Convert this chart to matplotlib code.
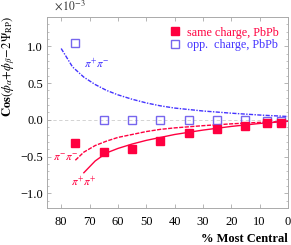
import numpy as np
import matplotlib
matplotlib.use("Agg")
import matplotlib.pyplot as plt
from matplotlib.ticker import MultipleLocator

plt.rcParams['font.family'] = ['Liberation Serif', 'DejaVu Serif']
plt.rcParams['mathtext.fontset'] = 'stix'

RED = '#FF0040'
BLUE = '#4433FF'
SQ_BLUE = '#7766EE'

# centrality bins (% most central) and correlator values (units of 1e-3)
cent = [75, 65, 55, 45, 35, 25, 15, 7.5, 2.5]
same_charge = [-0.31, -0.44, -0.40, -0.29, -0.18, -0.13, -0.08, -0.04, -0.04]
opp_charge = [1.04, 0.0, 0.0, 0.0, 0.0, 0.0, 0.0, -0.02, -0.02]

# model curves
pm_x = [80, 76, 72, 68, 64, 60, 55, 50, 45, 40, 30, 20, 10, 0]
pm_y = [0.97, 0.72, 0.58, 0.48, 0.40, 0.34, 0.28, 0.23, 0.19, 0.16, 0.12, 0.09, 0.065, 0.045]
pp_x = [72, 68, 64, 60, 55, 50, 45, 40, 30, 20, 10, 0]
pp_y = [-0.72, -0.56, -0.45, -0.39, -0.33, -0.28, -0.24, -0.20, -0.14, -0.09, -0.05, -0.02]
mm_x = [75, 72, 68, 64, 60, 55, 50, 45, 40, 30, 20, 10, 0]
mm_y = [-0.55, -0.44, -0.35, -0.29, -0.24, -0.20, -0.16, -0.13, -0.11, -0.08, -0.055, -0.035, -0.02]

fig = plt.figure(figsize=(2.91, 2.45), dpi=100)
ax = fig.add_axes([0.1615, 0.151, 0.828, 0.780])

ax.axhline(0, color='#cccccc', lw=0.6, ls=(0, (4, 3)), zorder=0)

ax.plot(pm_x, pm_y, color=BLUE, lw=1.0, ls=(0, (3, 1, 1, 1)))
ax.plot(pp_x, pp_y, color=RED, lw=1.0)
ax.plot(mm_x, mm_y, color=RED, lw=1.0, ls=(0, (3, 1)))

ax.plot(cent, same_charge, 's', color=RED, ms=5.2, ls='none',
        label='same charge, PbPb', zorder=4)
ax.plot(cent, opp_charge, 's', mfc='none', mec=SQ_BLUE, mew=1.0, ms=5.2,
        ls='none', label='opp.  charge, PbPb', zorder=3)

ax.text(67.5, 0.76, r'$\pi^{+}\pi^{-}$', color=BLUE, fontsize=8, ha='center', va='center')
ax.text(78.6, -0.53, r'$\pi^{-}\pi^{-}$', color=RED, fontsize=8, ha='center', va='center')
ax.text(72.1, -0.84, r'$\pi^{+}\pi^{+}$', color=RED, fontsize=8, ha='center', va='center')

leg = ax.legend(loc='upper right', fontsize=8.7, frameon=False, handlelength=0.7,
                handletextpad=0.6, borderaxespad=0.2, labelspacing=0.05,
                borderpad=0.6)
for txt, c in zip(leg.get_texts(), [RED, BLUE]):
    txt.set_color(c)

ax.set_xlim(85, 0)
ax.set_ylim(-1.2, 1.4)
ax.yaxis.set_minor_locator(MultipleLocator(0.1))
ax.set_xticks([80, 70, 60, 50, 40, 30, 20, 10, 0])
ax.set_yticks([-1.0, -0.5, 0.0, 0.5, 1.0])
ax.set_yticklabels(['\u22121.0', '\u22120.5', '0.0', '0.5', '1.0'])

ax.tick_params(which='both', direction='in', top=True, right=True,
               color='#aaaaaa', labelsize=9)
ax.tick_params(which='major', length=3, width=0.6)
ax.tick_params(which='minor', length=1.5, width=0.5)
ax.tick_params(axis='x', pad=6)
ax.tick_params(axis='y', pad=3)
for s in ax.spines.values():
    s.set_color('#aaaaaa')
    s.set_linewidth(0.7)

ax.text(0.03, 1.02, r'$\times\,10^{-3}$', transform=ax.transAxes, fontsize=8.5,
        ha='left', va='bottom', color='#333333')

# y label placed by hand, sits in the upper half like the original
fig.text(9 / 291, 1 - 66 / 245,
         r'$\mathbf{Cos}(\phi_\alpha\!+\!\phi_\beta\!-\!2\Psi_{\mathrm{RP}})$',
         fontsize=9, rotation=90, ha='center', va='center')
ax.set_xlabel('% Most Central', fontsize=9, fontweight='bold', loc='right', labelpad=3)

fig.savefig('out.png', dpi=100)
